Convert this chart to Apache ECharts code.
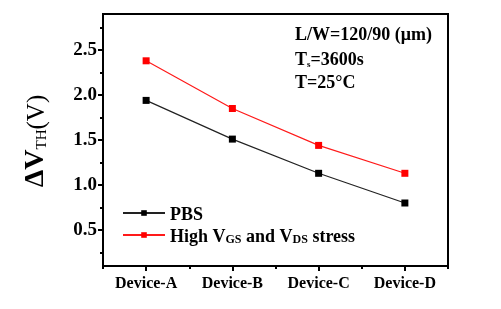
<!DOCTYPE html>
<html>
<head>
<meta charset="utf-8">
<script src="https://cdn.jsdelivr.net/npm/echarts@6/dist/echarts.min.js"></script>
<style>html,body{margin:0;padding:0;background:#fff}#c{width:501px;height:309px}</style>
</head>
<body>
<div id="c"></div>
<script>
var categories = ['Device-A', 'Device-B', 'Device-C', 'Device-D'];
var pbsValues = [1.94, 1.51, 1.13, 0.80];
var highStressValues = [2.38, 1.85, 1.44, 1.13];
var yTickLabels = [0.5, 1.0, 1.5, 2.0, 2.5];
var yMinorTicks = [0.25, 0.75, 1.25, 1.75, 2.25, 2.75];

var FONT = '"Liberation Serif", "Times New Roman", serif';
var W = 501, H = 309;
var G = {left: 103, right: 53, top: 14, bottom: 43};
function bl(w) { return {color: '#000', width: w || 2}; }
var chart = echarts.init(document.getElementById('c'));

chart.setOption({
  animation: false,
  backgroundColor: '#fff',
  grid: {left: G.left, right: G.right, top: G.top, bottom: G.bottom},
  xAxis: [{
    type: 'category', data: categories, boundaryGap: true,
    axisLine: {lineStyle: bl()},
    axisTick: {show: true, length: 3, lineStyle: bl()},
    axisLabel: {show: false}
  }, {
    type: 'category', data: categories, position: 'bottom', boundaryGap: true,
    axisLine: {lineStyle: bl()},
    axisTick: {show: true, alignWithLabel: true, length: 5, lineStyle: bl()},
    axisLabel: {show: true, color: '#000', fontFamily: FONT, fontWeight: 'bold', fontSize: 16, margin: 10}
  }],
  yAxis: [{
    type: 'value', min: 0.1, max: 2.9,
    splitLine: {show: false},
    axisLine: {show: true, lineStyle: bl()},
    axisTick: {show: true, length: 5, customValues: yTickLabels, lineStyle: bl()},
    axisLabel: {customValues: yTickLabels, color: '#000', fontFamily: FONT, fontWeight: 'bold', fontSize: 19, margin: 6,
      formatter: function (v) { return Number(v).toFixed(1); }}
  }, {
    type: 'value', min: 0.1, max: 2.9, position: 'left',
    splitLine: {show: false},
    axisLine: {show: true, lineStyle: bl()},
    axisTick: {show: true, length: 3, customValues: yMinorTicks, lineStyle: bl()},
    axisLabel: {show: false}
  }],
  series: [{
    name: 'PBS', type: 'line', xAxisIndex: 1, yAxisIndex: 0, data: pbsValues,
    symbol: 'rect', symbolSize: 7,
    lineStyle: {color: '#222', width: 1.2},
    itemStyle: {color: '#000'}
  }, {
    name: 'High', type: 'line', xAxisIndex: 1, yAxisIndex: 0, data: highStressValues,
    symbol: 'rect', symbolSize: 7,
    lineStyle: {color: '#ff1a1a', width: 1.2},
    itemStyle: {color: '#ff0000'}
  }]
});

chart.setOption({
  legend: {
    orient: 'vertical', left: 117, top: 201, itemWidth: 42, itemHeight: 7, itemGap: 4,
    data: ['PBS', 'High'],
    formatter: function (name) {
      if (name === 'PBS') return '{b|PBS}';
      return '{b|High V}{s|GS}{b| and V}{s|DS}{b| stress}';
    },
    textStyle: {
      fontFamily: FONT, fontWeight: 'bold', fontSize: 18, color: '#000',
      rich: {
        b: {fontFamily: FONT, fontWeight: 'bold', fontSize: 18, lineHeight: 22, color: '#000', verticalAlign: 'bottom'},
        s: {fontFamily: FONT, fontWeight: 'bold', fontSize: 12, lineHeight: 12, color: '#000', verticalAlign: 'bottom'}
      }
    }
  },
  graphic: [{
    type: 'rect', z: 100, silent: true,
    shape: {x: G.left, y: G.top, width: W - G.left - G.right, height: H - G.top - G.bottom},
    style: {fill: 'none', stroke: '#000', lineWidth: 2}
  }, {
    type: 'text', x: 34, y: 141, rotation: Math.PI / 2,
    style: {
      text: '{a|ΔV}{s|TH}{p|(V)}',
      align: 'center', verticalAlign: 'middle',
      rich: {
        a: {fontFamily: FONT, fontWeight: 'bold', fontSize: 28, lineHeight: 31, fill: '#000', verticalAlign: 'bottom'},
        s: {fontFamily: FONT, fontWeight: 'normal', fontSize: 15, lineHeight: 14, fill: '#000', verticalAlign: 'bottom'},
        p: {fontFamily: FONT, fontWeight: 'normal', fontSize: 25, lineHeight: 31, fill: '#000', verticalAlign: 'bottom'}
      }
    }
  }, {
    type: 'text', x: 295, y: 35,
    style: {text: 'L/W=120/90 (μm)', fontFamily: FONT, fontWeight: 'bold', fontSize: 18, fill: '#000', verticalAlign: 'middle'}
  }, {
    type: 'text', x: 295, y: 58,
    style: {
      text: '{b|T}{s|s}{b|=3600s}', verticalAlign: 'middle',
      rich: {
        b: {fontFamily: FONT, fontWeight: 'bold', fontSize: 18, lineHeight: 22, fill: '#000', verticalAlign: 'bottom'},
        s: {fontFamily: FONT, fontWeight: 'bold', fontSize: 9, lineHeight: 8, fill: '#000', verticalAlign: 'bottom'}
      }
    }
  }, {
    type: 'text', x: 295, y: 83,
    style: {text: 'T=25°C', fontFamily: FONT, fontWeight: 'bold', fontSize: 18, fill: '#000', verticalAlign: 'middle'}
  }]
});
</script>
</body>
</html>
